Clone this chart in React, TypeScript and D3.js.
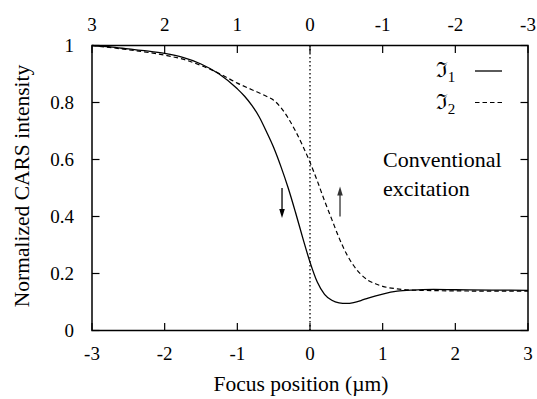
import React from "react";
import * as d3 from "d3";

// Focus positions (µm) and normalized intensities for the two signals
const focusI1 = [-3, -2.75, -2.5, -2.25, -2, -1.75, -1.5, -1.25, -1.0, -0.9, -0.8, -0.7, -0.6, -0.5, -0.4, -0.3, -0.2, -0.1, 0, 0.1, 0.2, 0.3, 0.4, 0.5, 0.6, 0.7, 0.8, 1.0, 1.2, 1.4, 1.7, 2.0, 2.5, 3.0];
const intensityI1 = [1.0, 0.995, 0.988, 0.981, 0.972, 0.958, 0.935, 0.9, 0.848, 0.822, 0.79, 0.75, 0.698, 0.642, 0.575, 0.5, 0.415, 0.325, 0.24, 0.17, 0.127, 0.106, 0.097, 0.095, 0.098, 0.105, 0.114, 0.128, 0.138, 0.142, 0.144, 0.143, 0.142, 0.141];

const focusI2 = [-3, -2.5, -2.0, -1.75, -1.5, -1.25, -1.0, -0.8, -0.6, -0.5, -0.4, -0.3, -0.2, -0.1, 0, 0.1, 0.2, 0.3, 0.4, 0.5, 0.6, 0.7, 0.8, 0.9, 1.0, 1.2, 1.5, 2.0, 2.5, 3.0];
const intensityI2 = [1.0, 0.985, 0.966, 0.952, 0.93, 0.902, 0.868, 0.845, 0.822, 0.808, 0.782, 0.745, 0.7, 0.648, 0.59, 0.525, 0.455, 0.39, 0.325, 0.27, 0.228, 0.197, 0.176, 0.164, 0.155, 0.146, 0.141, 0.139, 0.138, 0.138];

const xTicks = [-3, -2, -1, 0, 1, 2, 3];
const yTicks = [0, 0.2, 0.4, 0.6, 0.8, 1];

// Direction arrows: [x, yFrom, yTo]
const arrowDown = [-0.385, 0.5, 0.395];
const arrowUp = [0.413, 0.4, 0.505];

const W = 537;
const H = 399;
const M = { left: 92, right: 9, top: 45.5, bottom: 68.5 };
const FONT =
  '"Liberation Serif", "Times New Roman", Times, Tinos, "Noto Serif", "DejaVu Serif", FreeSerif, serif';
const txt = { fontFamily: FONT };

export default function App() {
  const x = d3.scaleLinear().domain([-3, 3]).range([M.left, W - M.right]);
  const y = d3.scaleLinear().domain([0, 1]).range([H - M.bottom, M.top]);
  const x0 = M.left, x1 = W - M.right, y0 = H - M.bottom, y1 = M.top;

  const line = d3
    .line<[number, number]>()
    .x((d) => x(d[0]))
    .y((d) => y(d[1]))
    .curve(d3.curveMonotoneX);

  const s1 = focusI1.map((f, i) => [f, intensityI1[i]] as [number, number]);
  const s2 = focusI2.map((f, i) => [f, intensityI2[i]] as [number, number]);

  const tickLen = 7.5;

  const arrow = (a: number[], key: string, color: string) => {
    const ax = x(a[0]);
    const ya = y(a[1]);
    const yb = y(a[2]);
    const dir = yb > ya ? 1 : -1;
    const headLen = 9;
    const headHalf = 2.8;
    return (
      <g key={key}>
        <line x1={ax} y1={ya} x2={ax} y2={yb - dir * headLen * 0.6} stroke={color} strokeWidth={1.3} />
        <path
          d={`M${ax},${yb} L${ax - headHalf},${yb - dir * headLen} L${ax + headHalf},${yb - dir * headLen} Z`}
          fill={color}
        />
      </g>
    );
  };

  return (
    <div style={{ position: "absolute", left: 0, top: 0 }}>
      <svg width={W} height={H} style={{ display: "block", background: "#fff", fontFamily: FONT }}>
        {/* zero focus marker */}
        <line x1={x(0)} x2={x(0)} y1={y0} y2={y1} stroke="#222" strokeWidth={1.5} strokeDasharray="1.5,2.5" />

        {/* curves */}
        <path d={line(s2) || ""} fill="none" stroke="#000" strokeWidth={1.2} strokeDasharray="4.5,3" />
        <path d={line(s1) || ""} fill="none" stroke="#000" strokeWidth={1.3} />

        {/* ticks */}
        {xTicks.map((t) => (
          <g key={"xt" + t}>
            <line x1={x(t)} x2={x(t)} y1={y0} y2={y0 - tickLen} stroke="#000" strokeWidth={1.2} />
            <line x1={x(t)} x2={x(t)} y1={y1} y2={y1 + tickLen} stroke="#000" strokeWidth={1.2} />
            <text style={txt} x={x(t)} y={y0 + 29} textAnchor="middle" fontSize={19}>{t}</text>
            <text style={txt} x={x(t)} y={y1 - 15} textAnchor="middle" fontSize={19}>{-t}</text>
          </g>
        ))}
        {yTicks.map((t) => (
          <g key={"yt" + t}>
            <line x1={x0} x2={x0 + tickLen} y1={y(t)} y2={y(t)} stroke="#000" strokeWidth={1.2} />
            <line x1={x1} x2={x1 - tickLen} y1={y(t)} y2={y(t)} stroke="#000" strokeWidth={1.2} />
            <text style={txt} x={x0 - 18} y={y(t) + 6.5} textAnchor="end" fontSize={19}>{t}</text>
          </g>
        ))}

        {/* frame */}
        <rect x={x0} y={y1} width={x1 - x0} height={y0 - y1} fill="none" stroke="#000" strokeWidth={1.5} />

        {/* arrows */}
        {arrow(arrowDown, "ad", "#000")}
        {arrow(arrowUp, "au", "#333")}

        {/* legend */}
        <text style={txt} x={436} y={77} fontSize={21}>
          ℑ<tspan dy={5} fontSize={15}>1</tspan>
        </text>
        <line x1={475} x2={502} y1={71} y2={71} stroke="#000" strokeWidth={1.3} />
        <text style={txt} x={436} y={109} fontSize={21}>
          ℑ<tspan dy={5} fontSize={15}>2</tspan>
        </text>
        <line x1={475} x2={502} y1={102.5} y2={102.5} stroke="#000" strokeWidth={1.2} strokeDasharray="4.5,3" />

        <text style={txt} x={383} y={167} fontSize={22}>Conventional</text>
        <text style={txt} x={383} y={196} fontSize={22}>excitation</text>

        {/* axis titles */}
        <text style={txt} x={301} y={391} textAnchor="middle" fontSize={21.5}>Focus position (µm)</text>
        <text style={txt} transform={`translate(29,186) rotate(-90)`} textAnchor="middle" fontSize={21.5}>
          Normalized CARS intensity
        </text>
      </svg>
    </div>
  );
}
